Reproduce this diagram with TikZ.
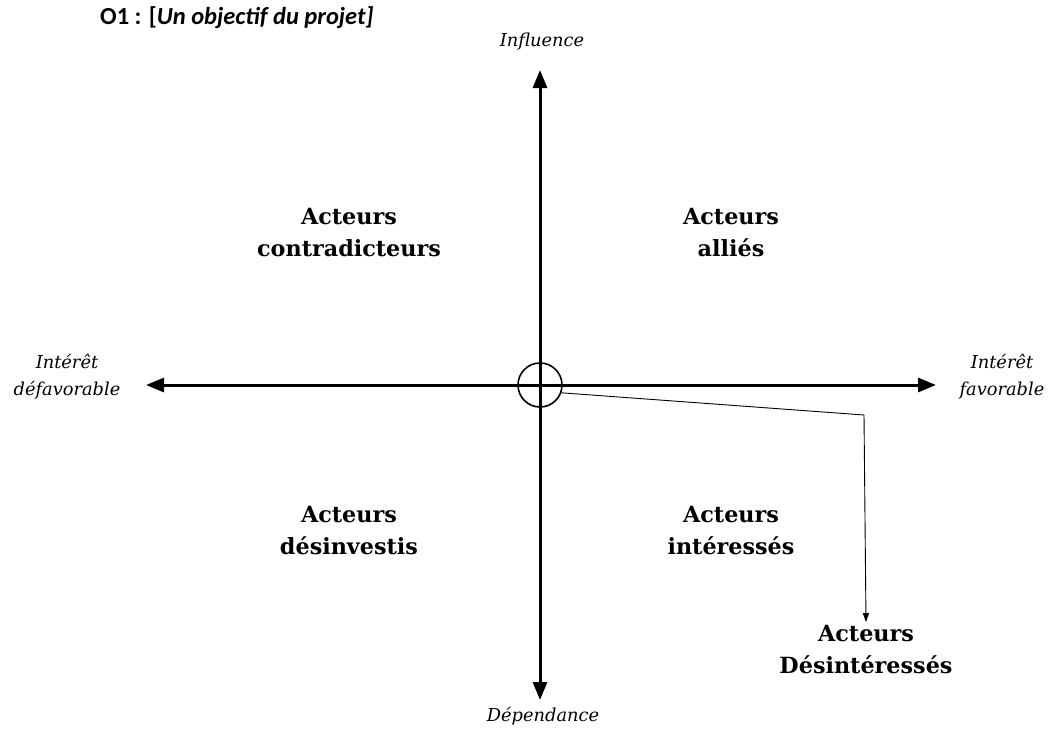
\documentclass[tikz,border=0pt]{standalone}
\usepackage{fontspec}
\setmainfont{DejaVu Serif}
\newfontfamily\titlefont{Carlito}
\usetikzlibrary{arrows.meta,positioning}

\tikzset{
	axis/.style = {
			line width = 3pt,
			{Triangle[width=14pt,length=18pt]}-{Triangle[width=14pt,length=18pt]},
		},
	pointer/.style = {
			line width = 0.9pt,
			-{Triangle[width=6pt,length=9pt]},
		},
	quadrant/.style = {align=center, font=\fontsize{22.3}{32}\selectfont\bfseries},
	axislabel/.style = {align=center, font=\fontsize{17.8}{27}\selectfont\itshape},
}

\begin{document}
\begin{tikzpicture}[x=1pt,y=-1pt]
		\useasboundingbox (0,0) rectangle (1055,739);

		\node[anchor=west, inner sep=0pt, font=\titlefont\fontsize{24.5}{28}\selectfont\bfseries] at (100,18) (title) {O1 : [\textit{Un objectif du projet]}};

		% axes
		\coordinate (top) at (540,70);
		\coordinate (bottom) at (540,700);
		\coordinate (left) at (146,385);
		\coordinate (right) at (936,385);
		\draw[axis] (bottom) -- (top);
		\draw[axis] (left) -- (right);
		\node[circle, draw, line width=1.6pt, minimum size=44pt, inner sep=0pt] at (540,385) (origin) {};

		\node[axislabel] at (542,42) (influence) {Influence};
		\node[axislabel] at (543,716) (dependance) {Dépendance};
		\node[axislabel] at (67,377) (defav) {Intérêt\\défavorable};
		\node[axislabel] at (1002,377) (fav) {Intérêt\\favorable};

		% quadrants
		\node[quadrant] at (349,233) (contra) {Acteurs\\contradicteurs};
		\node[quadrant] at (731,233) (allies) {Acteurs\\alliés};
		\node[quadrant] at (349,531) (desinv) {Acteurs\\désinvestis};
		\node[quadrant] at (731,531) (interes) {Acteurs\\intéressés};
		\node[quadrant] at (866,650) (desint) {Acteurs\\Désintéressés};

		\coordinate (corner) at (864,415);
		\draw[line width=0.9pt] (origin.-20) -- (corner);
		\draw[pointer] (corner) -- (desint.north);
	\end{tikzpicture}
\end{document}
